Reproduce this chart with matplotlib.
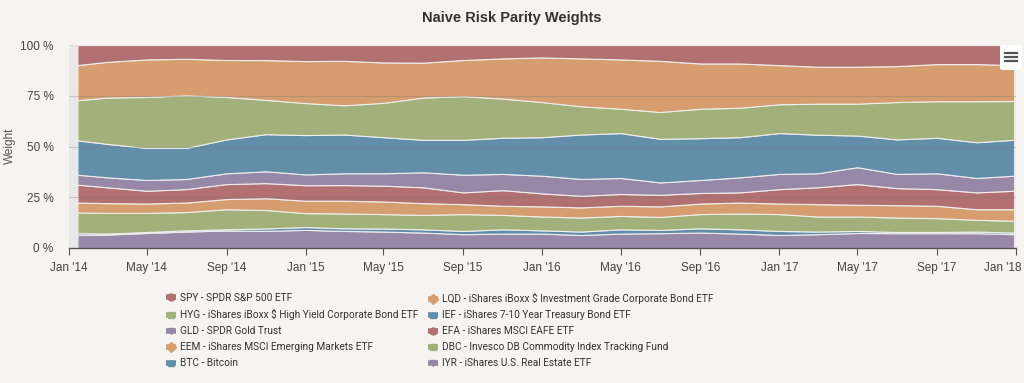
import matplotlib
matplotlib.use("Agg")
import matplotlib.pyplot as plt
import matplotlib.dates as mdates
import matplotlib.transforms as mtransforms
from matplotlib.lines import Line2D
from matplotlib.patches import FancyBboxPatch
from matplotlib.legend_handler import HandlerTuple
from matplotlib.textpath import TextPath
from matplotlib.font_manager import FontProperties
import numpy as np
import pandas as pd

plt.rcParams['font.family'] = ['Liberation Sans', 'DejaVu Sans']

# sample dates (roughly every two months)
dates = pd.to_datetime([
    '2014-01-14', '2014-03-01', '2014-05-01', '2014-07-01', '2014-09-01', '2014-11-01',
    '2015-01-01', '2015-03-01', '2015-05-01', '2015-07-01', '2015-09-01', '2015-11-01',
    '2016-01-01', '2016-03-01', '2016-05-01', '2016-07-01', '2016-09-01', '2016-11-01',
    '2017-01-01', '2017-03-01', '2017-05-01', '2017-07-01', '2017-09-01', '2017-11-01',
    '2017-12-29'])

# weights in percent, per asset
spy = [9.9, 8.3, 7.1, 6.8, 7.4, 7.4, 7.9, 7.8, 8.6, 8.7, 7.4, 6.6, 6.1, 6.6, 7.1, 7.8,
       9.1, 9.1, 9.9, 10.7, 10.7, 10.4, 9.4, 9.4, 9.9]
lqd = [17.3, 17.6, 18.5, 18.0, 18.2, 19.5, 20.6, 21.9, 19.9, 17.2, 17.8, 19.8, 22.0, 23.6,
       24.3, 25.2, 22.3, 21.8, 19.3, 18.2, 18.2, 17.7, 18.3, 18.3, 17.7]
hyg = [19.8, 22.8, 25.1, 25.9, 20.9, 16.8, 15.7, 14.4, 16.9, 20.8, 21.5, 19.3, 17.3, 13.9,
       12.0, 13.2, 14.5, 14.5, 14.2, 15.3, 15.7, 18.4, 18.0, 20.2, 19.1]
ief = [16.9, 16.5, 15.8, 15.3, 16.7, 18.2, 19.3, 19.1, 17.8, 16.0, 17.2, 17.8, 19.0, 21.9,
       22.1, 21.5, 20.6, 19.8, 20.1, 19.0, 15.6, 17.0, 17.5, 17.6, 17.7]
gld = [4.9, 4.9, 5.3, 5.0, 5.3, 5.8, 5.3, 5.8, 6.1, 7.4, 8.7, 8.0, 8.7, 8.3, 7.9, 6.1,
       6.4, 7.4, 7.5, 6.9, 8.3, 7.0, 7.8, 7.1, 7.4]
efa = [8.8, 7.8, 6.3, 6.6, 7.4, 7.4, 7.6, 7.7, 7.8, 7.8, 5.8, 7.7, 6.4, 5.7, 5.8, 5.7,
       5.2, 5.0, 7.1, 8.3, 10.2, 8.4, 8.2, 8.3, 9.1]
eem = [4.9, 4.8, 4.6, 4.7, 5.0, 5.8, 6.1, 6.3, 6.2, 5.8, 4.9, 4.5, 5.0, 5.0, 5.0, 5.2,
       5.2, 5.4, 5.2, 6.1, 5.8, 6.1, 6.1, 5.2, 5.7]
dbc = [10.2, 10.2, 9.4, 9.0, 9.9, 9.0, 6.8, 7.3, 7.1, 7.1, 8.3, 7.1, 6.8, 6.9, 6.6, 6.4,
       7.0, 7.8, 8.3, 7.4, 7.1, 7.1, 6.8, 5.8, 5.8]
btc = [0.9, 0.5, 0.5, 0.6, 0.6, 1.2, 1.4, 1.3, 1.5, 1.6, 1.6, 2.1, 1.6, 1.7, 2.1, 1.6,
       2.1, 2.1, 2.0, 1.3, 1.0, 0.6, 0.6, 0.8, 0.8]
iyr = [6.4, 6.6, 7.4, 8.1, 8.6, 8.4, 8.9, 8.4, 8.1, 7.6, 6.8, 7.1, 7.1, 6.4, 7.1, 7.3,
       7.6, 7.1, 6.4, 6.8, 7.4, 7.3, 7.3, 7.3, 6.8]

names = ['SPY - SPDR S&P 500 ETF',
         'LQD - iShares iBoxx $ Investment Grade Corporate Bond ETF',
         'HYG - iShares iBoxx $ High Yield Corporate Bond ETF',
         'IEF - iShares 7-10 Year Treasury Bond ETF',
         'GLD - SPDR Gold Trust',
         'EFA - iShares MSCI EAFE ETF',
         'EEM - iShares MSCI Emerging Markets ETF',
         'DBC - Invesco DB Commodity Index Tracking Fund',
         'BTC - Bitcoin',
         'IYR - iShares U.S. Real Estate ETF']
series = [spy, lqd, hyg, ief, gld, efa, eem, dbc, btc, iyr]

red, orange, green, blue, purple = '#b27070', '#d69e6e', '#a2b07a', '#628eaa', '#9688a6'
colors = [red, orange, green, blue, purple, red, orange, green, blue, purple]
markers = ['o', 'D', 's', '^', 'v', 'o', 'D', 's', '^', 'v']

# the legend text in the original is narrow: pick the narrowest installed face
# and a size that keeps the long HYG label clear of the second column
best = None
for fam in ['Roboto', 'Lato', 'Liberation Sans', 'Noto Sans']:
    fp = FontProperties(family=fam, size=10)
    w = TextPath((0, 0), names[2], prop=fp).get_extents().width
    if best is None or w < best[1]:
        best = (fam, w)
leg_size = min(8.3, 10 * (238 * 72 / 100) / best[1])
leg_font = dict(family=[best[0], 'DejaVu Sans'], size=leg_size)
leg_spacing = (12.0 - 1.05 * leg_size) / leg_size

bg = '#f5f4f0'
fig = plt.figure(figsize=(10.24, 3.83), dpi=100, facecolor=bg)
ax = fig.add_axes([69 / 1024, 1 - 248 / 383, 947 / 1024, 203 / 383])
ax.set_facecolor('#e8e8e8')

# first series sits on top, so stack in reverse
vals = [np.array(s, dtype=float) for s in series]
total = np.sum(vals, axis=0)
vals = [v / total * 100 for v in vals]
ax.stackplot(dates, vals[::-1], colors=colors[::-1], edgecolor='#eeeeee',
             linewidth=0.8, zorder=2)

for yv in [25, 50, 75]:
    ax.axhline(yv, color='#7a7a7a', alpha=0.35, lw=0.8, zorder=3)
ax.axhline(100, color='#dddddd', lw=1, zorder=1)

ax.set_ylim(0, 100)
ax.set_xlim(pd.Timestamp('2014-01-01'), pd.Timestamp('2018-01-01'))
ax.set_yticks([0, 25, 50, 75, 100])
ax.set_yticklabels(['0 %', '25 %', '50 %', '75 %', '100 %'])
ax.xaxis.set_major_locator(mdates.MonthLocator(bymonth=[1, 5, 9]))
ax.xaxis.set_major_formatter(mdates.DateFormatter("%b '%y"))
ax.tick_params(axis='y', length=0, labelsize=8.5, labelcolor='#444444', pad=11)
ax.tick_params(axis='x', length=5, width=0.8, color='#555555', labelsize=8.5,
               labelcolor='#444444', pad=5)
for side in ['top', 'right', 'left']:
    ax.spines[side].set_visible(False)
ax.spines['bottom'].set_color('#555555')
ax.spines['bottom'].set_linewidth(1)

# keep the last date label inside the figure
fig.canvas.draw()
last = ax.get_xticklabels()[-1]
last.set_horizontalalignment('right')
last.set_transform(last.get_transform() +
                   mtransforms.ScaledTranslation(6 / 100, 0, fig.dpi_scale_trans))

fig.text(10 / 1024, 1 - 146 / 383, 'Weight', rotation=90, ha='center', va='center',
         fontsize=8.5, color='#555555')
fig.text(0.5, 1 - 18 / 383, 'Naive Risk Parity Weights', ha='center', va='center',
         fontsize=10.5, fontweight='bold', color='#333333')

# legend, two columns
handles = []
for c, m in zip(colors, markers):
    rect = Line2D([0], [0], color=c, lw=4, solid_capstyle='butt')
    mk = Line2D([0], [0], color=c, marker=m, markersize=5, lw=0)
    handles.append((rect, mk))

for col, x0 in [(0, 166 / 1024), (1, 428 / 1024)]:
    idx = list(range(col, 10, 2))
    leg = fig.legend([handles[i] for i in idx], [names[i] for i in idx],
                     handler_map={tuple: HandlerTuple(ndivide=1)},
                     loc='upper left', bbox_to_anchor=(x0, 1 - 293 / 383),
                     frameon=False, prop=leg_font, handlelength=7.5 / leg_size,
                     handletextpad=0.35, labelspacing=leg_spacing, borderpad=0,
                     borderaxespad=0)
    for t in leg.get_texts():
        t.set_color('#333333')

# export menu button
btn = FancyBboxPatch((1000 / 1024, 1 - 70 / 383), 22 / 1024, 25 / 383,
                     boxstyle='round,pad=0,rounding_size=0.004',
                     transform=fig.transFigure, facecolor='white', edgecolor='none', zorder=5)
fig.add_artist(btn)
for yy in [53, 57, 61]:
    fig.add_artist(Line2D([1005 / 1024, 1017 / 1024], [1 - yy / 383, 1 - yy / 383],
                          transform=fig.transFigure, color='#555555', lw=1.6, zorder=6))

fig.savefig('out.png', dpi=100, facecolor=bg)
